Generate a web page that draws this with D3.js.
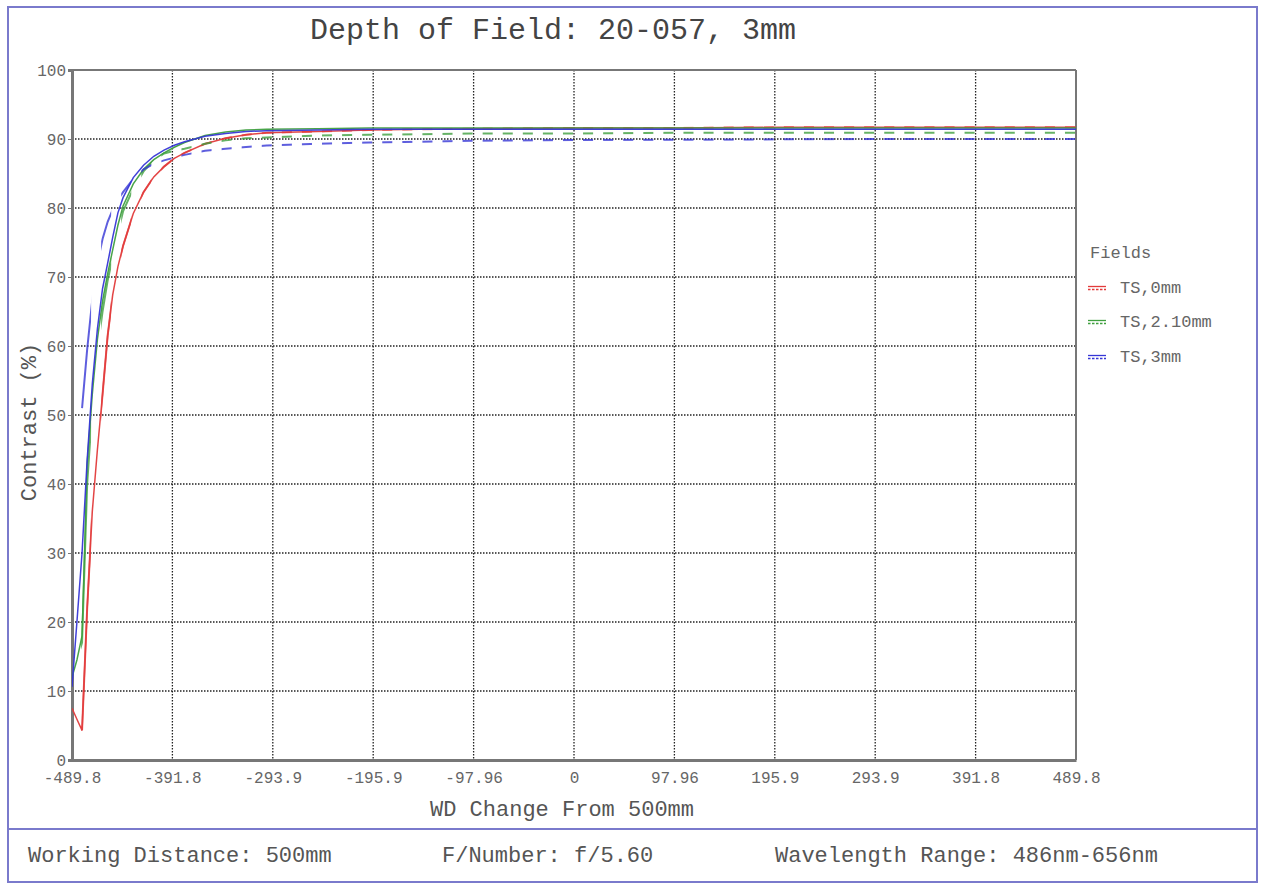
<!DOCTYPE html>
<html><head><meta charset="utf-8">
<script src="https://cdn.jsdelivr.net/npm/d3@7"></script>
<style>
body{margin:0;background:#fff}
svg{display:block}
text{font-family:"Liberation Mono","Courier New",monospace}
</style>
</head><body>
<svg id="c" width="1265" height="886"></svg>
<script>
// ---- data ----
const wdChange = [-489.8,-485,-480,-475,-470,-465,-460,-455,-450,-445,-440,-430,-420,-410,-400,-390,-380,-360,-340,-320,-300,-250,-200,-150,-100,0,100,200,300,400,489.8];
const ts0T   = [7.5,5.9,4.3,22,36,45,53,61.5,67.5,71.5,74.5,79.2,82.3,84.5,86.0,87.2,88.0,89.3,90.1,90.6,90.9,91.1,91.3,91.4,91.5,91.6,91.6,91.7,91.7,91.7,91.7];
const ts0S   = [7.5,5.9,4.3,22,36,45,53,61.5,67.5,71.5,74.5,79.2,82.3,84.5,86.0,87.2,88.0,89.3,90.1,90.6,90.9,91.1,91.3,91.4,91.5,91.6,91.6,91.7,91.7,91.7,91.7];
const ts210T = [12,14.5,18,43,53,61,66.5,70.5,74,77.5,80.3,83.5,85.6,87,88,88.8,89.5,90.5,91.0,91.3,91.4,91.5,91.6,91.6,91.6,91.6,91.6,91.6,91.6,91.6,91.6];
const ts210S = [12,14.5,17,40,51,59.5,65,69.5,73,76.5,79.5,82.8,85.3,86.9,87.9,88.3,88.6,89.3,89.8,90.1,90.2,90.5,90.6,90.7,90.8,90.8,90.9,90.9,90.9,90.9,90.9];
const ts3T   = [10.6,20,30,43.5,54.5,62.5,68.3,72,75.8,79.3,81.5,84.4,86.2,87.5,88.4,89.1,89.6,90.4,90.8,91.1,91.2,91.3,91.4,91.4,91.4,91.4,91.4,91.4,91.4,91.4,91.4];
const ts3S   = [null,null,51,59.5,66.7,72,75.5,78,79.8,81.2,82.3,84.2,85.6,86.4,86.9,87.3,87.7,88.3,88.6,88.85,89.05,89.3,89.5,89.6,89.75,89.85,89.9,89.95,90.0,90.0,90.0];

const xTickValues = [-489.8,-391.84,-293.88,-195.92,-97.96,0,97.96,195.92,293.88,391.84,489.8];
const xTickLabels = ["-489.8","-391.8","-293.9","-195.9","-97.96","0","97.96","195.9","293.9","391.8","489.8"];
const yTickValues = [0,10,20,30,40,50,60,70,80,90,100];

const fieldNames = ["TS,0mm","TS,2.10mm","TS,3mm"];
const fieldColors = ["#e23b3b","#3f9f3f","#3636d6"];

const titleText = "Depth of Field: 20-057, 3mm";
const xTitle = "WD Change From 500mm";
const yTitle = "Contrast (%)";
const footerTexts = ["Working Distance: 500mm","F/Number: f/5.60","Wavelength Range: 486nm-656nm"];

// ---- layout ----
const L = 72, R = 1076, T = 70, B = 760;
const svg = d3.select("#c");

const x = d3.scaleLinear().domain([-489.8, 489.8]).range([L, R]);
const y = d3.scaleLinear().domain([0, 100]).range([B, T]);

// outer frame
svg.append("rect").attr("x",8).attr("y",7).attr("width",1249).attr("height",875)
  .attr("fill","#fff").attr("stroke","#7a7acc").attr("stroke-width",2);
svg.append("line").attr("x1",8).attr("x2",1257).attr("y1",829).attr("y2",829)
  .attr("stroke","#7a7acc").attr("stroke-width",2);

// title
svg.append("text").attr("x",553).attr("y",31).attr("text-anchor","middle")
  .attr("dominant-baseline","central").attr("font-size",30).attr("fill","#444").text(titleText);

// grid
const grid = svg.append("g");
grid.selectAll("line.v").data(xTickValues.slice(1,-1)).join("line")
  .attr("x1",d=>x(d)).attr("x2",d=>x(d)).attr("y1",T).attr("y2",B)
  .attr("stroke","#222").attr("stroke-width",1.3).attr("stroke-dasharray","1.5,1.5");
grid.selectAll("line.h").data(yTickValues.slice(1,-1)).join("line")
  .attr("x1",L).attr("x2",R).attr("y1",d=>y(d)).attr("y2",d=>y(d))
  .attr("stroke","#222").attr("stroke-width",1.3).attr("stroke-dasharray","1.5,1.5");

// frame lines of plot
svg.append("line").attr("x1",L).attr("x2",R).attr("y1",T).attr("y2",T).attr("stroke","#777").attr("stroke-width",2);
svg.append("line").attr("x1",R).attr("x2",R).attr("y1",T).attr("y2",B).attr("stroke","#777").attr("stroke-width",2);

// axes
const xAxis = d3.axisBottom(x).tickValues(xTickValues).tickFormat((d,i)=>xTickLabels[i]).tickSize(0).tickPadding(12);
const gx = svg.append("g").attr("transform",`translate(0,${B})`).call(xAxis);
gx.select(".domain").attr("stroke","#777").attr("stroke-width",3);
gx.selectAll("text").attr("font-size",16).attr("fill","#666").attr("font-family","Liberation Mono, monospace");

const yAxis = d3.axisLeft(y).tickValues(yTickValues).tickSize(4).tickPadding(2);
const gy = svg.append("g").attr("transform",`translate(${L},0)`).call(yAxis);
gy.select(".domain").attr("stroke","#777").attr("stroke-width",3);
gy.selectAll(".tick line").attr("stroke","#777");
gy.selectAll("text").attr("font-size",16).attr("fill","#666").attr("font-family","Liberation Mono, monospace");

// axis titles
svg.append("text").attr("x",562).attr("y",810).attr("text-anchor","middle").attr("dominant-baseline","central")
  .attr("font-size",22).attr("fill","#555").text(xTitle);
svg.append("text").attr("transform","translate(30,422) rotate(-90)").attr("text-anchor","middle")
  .attr("dominant-baseline","central").attr("font-size",22).attr("fill","#555").text(yTitle);

// clip paths
const defs = svg.append("defs");
defs.append("clipPath").attr("id","plotclip").append("rect")
  .attr("x",L).attr("y",T).attr("width",R-L).attr("height",B-T);
const period = (x(489.8)-x(-489.8))/50;
const start = x(-480) - 1;
const stripes = d3.range(0, 50).map(k => start + k*period);
defs.append("clipPath").attr("id","dashclip").selectAll("rect").data(stripes).join("rect")
  .attr("x",d=>d).attr("y",T).attr("width",period/2).attr("height",B-T);

// lines
const line = d3.line().defined(d=>d[1]!==null).x(d=>x(d[0])).y(d=>y(d[1]));
const series = [
  {vals: ts0T, c: 0, dashed:false},
  {vals: ts0S, c: 0, dashed:true},
  {vals: ts210T, c: 1, dashed:false},
  {vals: ts210S, c: 1, dashed:true},
  {vals: ts3T, c: 2, dashed:false},
  {vals: ts3S, c: 2, dashed:true}
];
const lg = svg.append("g").attr("clip-path","url(#plotclip)");
series.forEach(s=>{
  const pts = wdChange.map((w,i)=>[w, s.vals[i]]);
  const p = lg.append("g");
  if (s.dashed) p.attr("clip-path","url(#dashclip)");
  p.append("path").attr("d", line(pts)).attr("fill","none")
    .attr("stroke", fieldColors[s.c]).attr("stroke-width", s.dashed?2:1.5)
    .attr("stroke-opacity", s.dashed?0.8:0.95);
});

// legend
svg.append("text").attr("x",1090).attr("y",253).attr("dominant-baseline","central")
  .attr("font-size",17).attr("fill","#666").text("Fields");
const legY = [288,322,357];
fieldNames.forEach((n,i)=>{
  svg.append("line").attr("x1",1088).attr("x2",1106).attr("y1",legY[i]-1.5).attr("y2",legY[i]-1.5)
    .attr("stroke",fieldColors[i]).attr("stroke-width",1.3);
  svg.append("line").attr("x1",1088).attr("x2",1106).attr("y1",legY[i]+1.5).attr("y2",legY[i]+1.5)
    .attr("stroke",fieldColors[i]).attr("stroke-width",1.3).attr("stroke-dasharray","2.5,1.5");
  svg.append("text").attr("x",1120).attr("y",legY[i]).attr("dominant-baseline","central")
    .attr("font-size",17).attr("fill","#666").text(n);
});

// footer
const footX = [28,442,775];
footerTexts.forEach((t,i)=>{
  svg.append("text").attr("x",footX[i]).attr("y",856).attr("dominant-baseline","central")
    .attr("font-size",22).attr("fill","#555").text(t);
});
</script>
</body></html>
